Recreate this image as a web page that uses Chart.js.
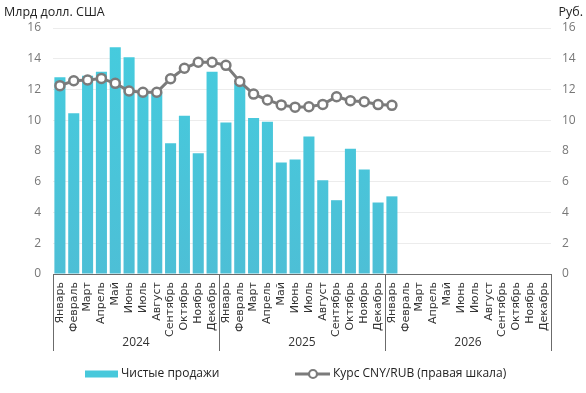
<!DOCTYPE html>
<html>
<head>
<meta charset="utf-8">
<script src="https://cdn.jsdelivr.net/npm/chart.js@4.4.1/dist/chart.umd.min.js"></script>
<style>
  html, body { margin: 0; padding: 0; background: #fff; }
  #wrap { width: 586px; height: 393px; position: relative; }
</style>
</head>
<body>
<div id="wrap"><canvas id="chart" width="586" height="393"></canvas></div>
<script>
var months = ["Январь", "Февраль", "Март", "Апрель", "Май", "Июнь", "Июль", "Август", "Сентябрь", "Октябрь", "Ноябрь", "Декабрь"];
var years = ["2024", "2025", "2026"];

// чистые продажи, млрд долл. США
var netSales = [12.8, 10.45, 12.9, 13.15, 14.75, 14.1, 11.9, 11.8, 8.5, 10.3, 7.85, 13.15,
                9.85, 12.4, 10.15, 9.9, 7.25, 7.45, 8.95, 6.1, 4.8, 8.15, 6.8, 4.65,
                5.05];
// курс CNY/RUB, руб.
var cnyRub = [12.25, 12.57, 12.62, 12.72, 12.4, 11.9, 11.82, 11.82, 12.7, 13.38, 13.77, 13.77,
              13.57, 12.52, 11.7, 11.32, 11.0, 10.85, 10.88, 11.03, 11.53, 11.27, 11.2, 11.02,
              10.97];

var yTicks = [0, 2, 4, 6, 8, 10, 12, 14, 16];

var labels = [];
years.forEach(function(y) {
    months.forEach(function(m) { labels.push(m); });
});

var font = "'Open Sans', 'DejaVu Sans', sans-serif";
var monthFont = "'DejaVu Sans', sans-serif";
var barColor = "#47C8DB";
var lineColor = "#7b7b7b";

var barGradient = function(ctx) {
    var area = ctx.chart.chartArea;
    if (!area) return barColor;
    var g = ctx.chart.ctx.createLinearGradient(0, area.top, 0, area.bottom);
    g.addColorStop(0, "#45CCDE");
    g.addColorStop(1, "#4DBFD6");
    return g;
};

// подписи лет, разделители и легенда
var groupPlugin = {
    id: 'groups',
    afterDraw: function(chart) {
        var ctx = chart.ctx;
        var x = chart.scales.x;
        var top = x.top;
        var step = (x.right - x.left) / labels.length;
        ctx.save();
        ctx.strokeStyle = "#6b6b6b";
        ctx.lineWidth = 1;
        for (var i = 0; i <= years.length; i++) {
            var px = Math.round(x.left + step * 12 * i) + 0.5;
            ctx.beginPath();
            ctx.moveTo(px, top);
            ctx.lineTo(px, 351);
            ctx.stroke();
        }
        ctx.fillStyle = "#333";
        ctx.font = "12px " + font;
        ctx.textAlign = "center";
        ctx.textBaseline = "middle";
        years.forEach(function(y, i) {
            ctx.fillText(y, x.left + step * (12 * i + 6), 343);
        });

        // легенда
        var ly = 374;
        ctx.fillStyle = barColor;
        ctx.fillRect(85, ly - 3.5, 33, 7);
        ctx.fillStyle = "#222";
        ctx.font = "12px " + font;
        ctx.textAlign = "left";
        ctx.fillText("Чистые продажи", 121, ly);

        ctx.strokeStyle = lineColor;
        ctx.lineWidth = 3;
        ctx.beginPath();
        ctx.moveTo(295, ly);
        ctx.lineTo(330, ly);
        ctx.stroke();
        ctx.beginPath();
        ctx.arc(313, ly, 4, 0, Math.PI * 2);
        ctx.fillStyle = "#fff";
        ctx.fill();
        ctx.lineWidth = 2.2;
        ctx.stroke();
        ctx.fillStyle = "#222";
        ctx.fillText("Курс CNY/RUB (правая шкала)", 333, ly);

        // подписи осей
        ctx.font = "12.5px " + font;
        ctx.textAlign = "left";
        ctx.fillText("Млрд долл. США", 4, 12);
        ctx.textAlign = "right";
        ctx.fillText("Руб.", 583, 12);
        ctx.restore();
    }
};

var ctxChart = document.getElementById("chart").getContext("2d");
window.myChart = new Chart(ctxChart, {
    type: 'bar',
    data: {
        labels: labels,
        datasets: [{
            type: 'line',
            label: 'Курс CNY/RUB (правая шкала)',
            data: cnyRub,
            yAxisID: 'y2',
            borderColor: lineColor,
            borderWidth: 3,
            pointRadius: 4.5,
            pointBorderWidth: 2.5,
            pointBackgroundColor: "#fff",
            pointBorderColor: lineColor,
            tension: 0,
            order: 0
        }, {
            label: 'Чистые продажи',
            data: netSales,
            yAxisID: 'y',
            backgroundColor: barGradient,
            barPercentage: 0.8,
            categoryPercentage: 1.0,
            order: 1
        }]
    },
    options: {
        responsive: false,
        animation: false,
        layout: { padding: { left: 0, right: 0, top: 28, bottom: 0 } },
        plugins: {
            legend: { display: false },
            tooltip: { enabled: false }
        },
        scales: {
            x: {
                grid: { display: false, drawTicks: false },
                border: { display: true, color: "#6b6b6b", width: 1 },
                ticks: {
                    minRotation: 90,
                    maxRotation: 90,
                    autoSkip: false,
                    padding: 8,
                    color: "#333",
                    font: { family: monthFont, size: 11 }
                },
                afterFit: function(scale) { scale.height = 119; }
            },
            y: {
                position: 'left',
                min: 0,
                max: 16,
                afterBuildTicks: function(scale) {
                    scale.ticks = yTicks.map(function(v) { return { value: v }; });
                },
                grid: { color: "#ececec", drawTicks: false },
                border: { display: false },
                ticks: {
                    padding: 12,
                    color: "#777",
                    font: { family: font, size: 12 }
                },
                afterFit: function(scale) { scale.width = 53; }
            },
            y2: {
                position: 'right',
                min: 0,
                max: 16,
                afterBuildTicks: function(scale) {
                    scale.ticks = yTicks.map(function(v) { return { value: v }; });
                },
                grid: { display: false, drawTicks: false },
                border: { display: false },
                ticks: {
                    padding: 11,
                    color: "#777",
                    font: { family: font, size: 12 }
                },
                afterFit: function(scale) { scale.width = 35; }
            }
        }
    },
    plugins: [groupPlugin]
});
</script>
</body>
</html>
